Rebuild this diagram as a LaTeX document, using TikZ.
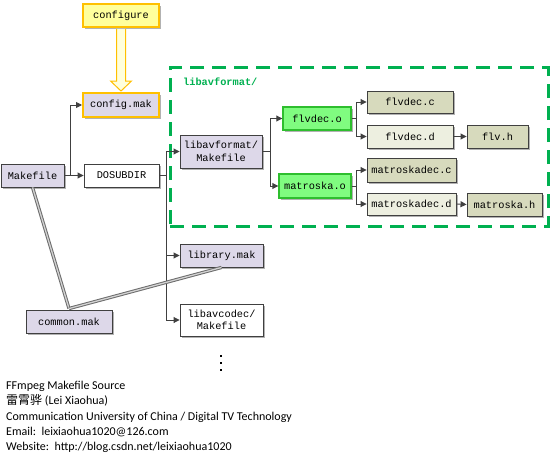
\documentclass[tikz,border=0pt]{standalone}
\usepackage{fontspec}
\setmainfont{Carlito}
\newfontfamily\monof{Liberation Mono}
\newfontfamily\cjkf{Noto Sans CJK SC}
\usetikzlibrary{arrows.meta,shadows,calc}
\definecolor{lav}{HTML}{DDD8E9}
\definecolor{olv}{HTML}{D7DABD}
\definecolor{olvl}{HTML}{EDEFE0}
\definecolor{grn}{HTML}{80FC80}
\definecolor{grnb}{HTML}{2EBE2E}
\definecolor{gold}{HTML}{FFC000}
\definecolor{ylw}{HTML}{FFFF9C}
\definecolor{dgr}{HTML}{404040}
\definecolor{dash}{HTML}{00B050}
\tikzset{
  box/.style={draw=dgr, line width=0.9pt, font=\monof\fontsize{10.3}{12.5}\selectfont, align=center, inner sep=1pt,
    drop shadow={shadow xshift=2pt, shadow yshift=-2pt, fill=black!30, opacity=1}},
  lavbox/.style={box, fill=lav},
  whitebox/.style={box, fill=white},
  olvbox/.style={box, fill=olv},
  olvlbox/.style={box, fill=olvl},
  grnbox/.style={box, fill=grn, draw=grnb, line width=1.4pt},
  goldbox/.style={box, draw=gold, line width=2pt},
  conn/.style={draw=dgr, line width=0.9pt, -{Triangle[length=6pt,width=6pt]}},
  link/.style={draw=gray!85!black, double=gray!35, double distance=1.3pt, line width=1pt},
}
\begin{document}
\begin{tikzpicture}[x=1pt,y=-1pt]
\useasboundingbox (0,0) rectangle (554,460);
% dashed container
\node[draw=dash, line width=3pt, dash pattern=on 14pt off 8pt, minimum width=378pt, minimum height=158pt, inner sep=0pt] (grp) at (359,147) {};
\node[anchor=west, text=dash, font=\monof\bfseries\fontsize{10.3}{12}\selectfont, inner sep=0pt] (grplabel) at (183,82) {libavformat/};
% nodes
\node[goldbox, fill=ylw, minimum width=76pt, minimum height=23pt] (configure) at (121,15.5) {configure};
\node[goldbox, fill=lav, minimum width=76pt, minimum height=24pt] (configmak) at (121,105) {config.mak};
\node[lavbox, minimum width=63pt, minimum height=23pt] (makefile) at (32.5,175.5) {Makefile};
\node[whitebox, minimum width=75pt, minimum height=23pt] (dosubdir) at (121.5,175.5) {DOSUBDIR};
\node[lavbox, minimum width=82pt, minimum height=33pt] (lavfmk) at (221,151.5) {libavformat/\\Makefile};
\node[grnbox, minimum width=68pt, minimum height=23pt] (flvdeco) at (317,118.5) {flvdec.o};
\node[grnbox, minimum width=72pt, minimum height=24pt] (matroskao) at (315,186) {matroska.o};
\node[olvbox, minimum width=86pt, minimum height=22pt] (flvdecc) at (410,102) {flvdec.c};
\node[olvlbox, minimum width=86pt, minimum height=23pt] (flvdecd) at (410,136.5) {flvdec.d};
\node[olvbox, minimum width=61pt, minimum height=23pt] (flvh) at (497.5,136.5) {flv.h};
\node[olvbox, minimum width=89pt, minimum height=24pt] (mkvc) at (411.5,170) {matroskadec.c};
\node[olvlbox, minimum width=89pt, minimum height=22pt] (mkvd) at (411.5,204) {matroskadec.d};
\node[olvbox, minimum width=75pt, minimum height=23pt] (mkvh) at (504.5,204.5) {matroska.h};
\node[lavbox, minimum width=83pt, minimum height=23pt] (librarymak) at (221.5,255.5) {library.mak};
\node[whitebox, minimum width=83pt, minimum height=32pt] (lavcmk) at (221.5,320) {libavcodec/\\Makefile};
\node[lavbox, minimum width=86pt, minimum height=23pt] (commonmak) at (69,321.5) {common.mak};
% hollow arrow configure -> config.mak
\draw[draw=gold, fill=ylw!35, line width=1pt]
  ($(configure.south)+(-4.5,1)$) -- ($(configmak.north)+(-4.5,-11)$) -- ($(configmak.north)+(-10.5,-11)$)
  -- ($(configmak.north)+(0,-1)$) -- ($(configmak.north)+(10.5,-11)$) -- ($(configmak.north)+(4.5,-11)$)
  -- ($(configure.south)+(4.5,1)$);
% connectors
\draw[conn] (makefile.east) -- ++(6,0) |- (configmak.west);
\draw[conn] (makefile.east) -- (dosubdir.west);
\draw[conn] (dosubdir.east) -- ++(7,0) |- (lavfmk.west);
\draw[conn] (dosubdir.east) -- ++(7,0) |- (librarymak.west);
\draw[conn] (dosubdir.east) -- ++(7,0) |- (lavcmk.west);
\draw[conn] (lavfmk.east) -- ++(8,0) |- (flvdeco.west);
\draw[conn] (lavfmk.east) -- ++(8,0) |- (matroskao.west);
\draw[conn] (flvdeco.east) -- ++(5,0) |- (flvdecc.west);
\draw[conn] (flvdeco.east) -- ++(5,0) |- (flvdecd.west);
\draw[conn] (matroskao.east) -- ++(5,0) |- (mkvc.west);
\draw[conn] (matroskao.east) -- ++(5,0) |- (mkvd.west);
\draw[conn] (flvdecd.east) -- (flvh.west);
\draw[conn] (mkvd.east) -- (mkvh.west);
% double gray links
\coordinate (cmtop) at ($(commonmak.north)+(0,-1)$);
\draw[link] ($(makefile.south west)+(32,0)$) -- (cmtop);
\draw[link] (cmtop) -- ($(librarymak.south west)+(42,0)$);
% ellipsis
\foreach \yy in {356,363,370} \fill (221,\yy) ++(-1.3,-1.3) rectangle ++(2.6,2.6);
% footer text
\node[anchor=north west, align=left, inner sep=0pt, font=\fontsize{12}{15.3}\selectfont] (footer) at (6,381)
 {FFmpeg Makefile Source\\
  {\cjkf 雷霄骅} (Lei Xiaohua)\\
  Communication University of China / Digital TV Technology\\
  Email:\ \ leixiaohua1020@126.com\\
  Website:\ \ http://blog.csdn.net/leixiaohua1020};
\end{tikzpicture}
\end{document}
